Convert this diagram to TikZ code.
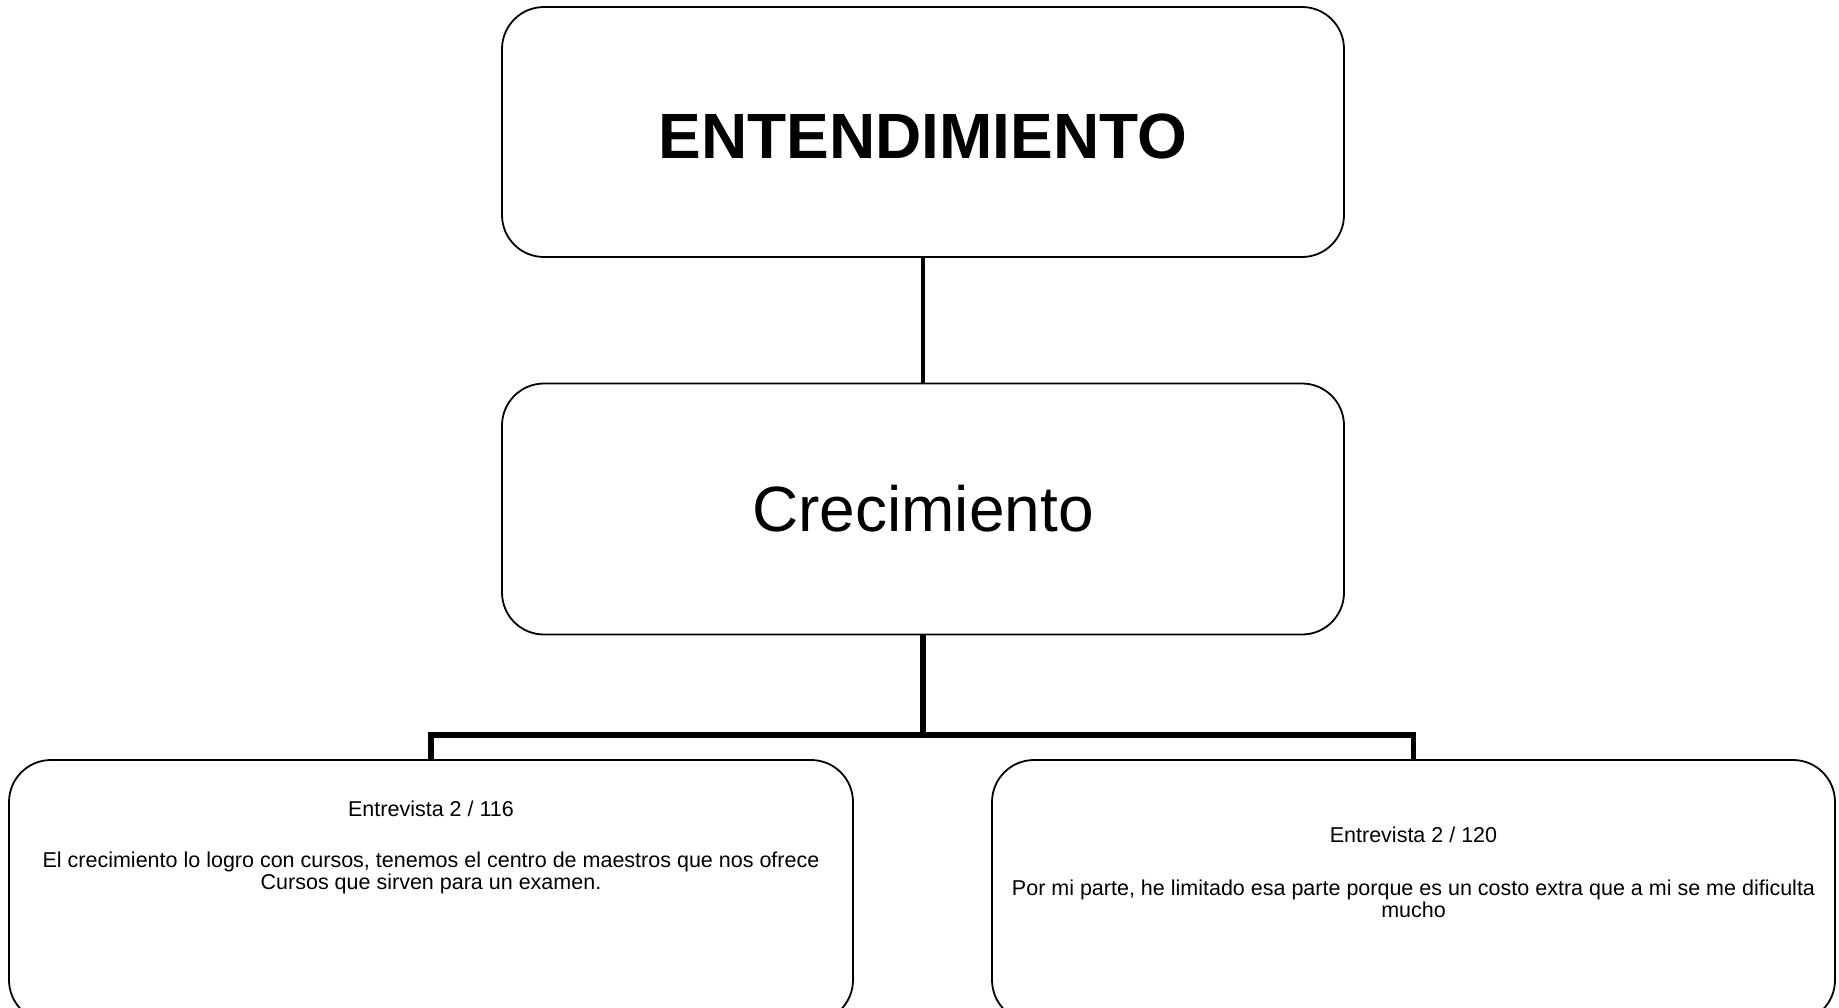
\documentclass[tikz,border=0pt]{standalone}
\usepackage{fontspec}
\setmainfont{Liberation Sans}
\begin{document}
\begin{tikzpicture}[x=1pt,y=-1pt,
  box/.style={draw=black, line width=1.8pt, rounded corners=42pt, fill=white, inner sep=0pt},
  connA/.style={line width=4.2pt},
  connB/.style={line width=5.8pt},
  small/.style={font=\fontsize{21.5}{22}\selectfont, inner sep=0pt, align=center}]
\useasboundingbox (0,0) rectangle (1839,1007);
\node[box, minimum width=842pt, minimum height=250pt] (top) at (923,132) {};
\node[anchor=base, inner sep=0pt, font=\fontsize{64}{70}\selectfont\bfseries] (toptext) at (923,158) {ENTENDIMIENTO};
\node[box, minimum width=842pt, minimum height=251pt, font=\fontsize{64}{74}\selectfont] (mid) at (923,509) {Crecimiento};
\node[box, minimum width=844pt, minimum height=262pt] (left) at (431,891) {};
\node[box, minimum width=843pt, minimum height=262pt] (right) at (1413.5,891) {};
\coordinate (bar) at (923,735);
\draw[connA] (top.south) -- (mid.north);
\draw[connB] (mid.south) -- (bar);
\draw[connB] (left.north) |- (bar) -| (right.north);
\node[small, anchor=base] (lt) at (431,816) {Entrevista 2 / 116};
\node[small, anchor=base] (lb1) at (431,867) {El crecimiento lo logro con cursos, tenemos el centro de maestros que nos ofrece};
\node[small, anchor=base] (lb2) at (431,889) {Cursos que sirven para un examen.};
\node[small, anchor=base] (rt) at (1413.5,842) {Entrevista 2 / 120};
\node[small, anchor=base] (rb1) at (1413.5,895) {Por mi parte, he limitado esa parte porque es un costo extra que a mi se me dificulta};
\node[small, anchor=base] (rb2) at (1413.5,917) {mucho};
\end{tikzpicture}
\end{document}
